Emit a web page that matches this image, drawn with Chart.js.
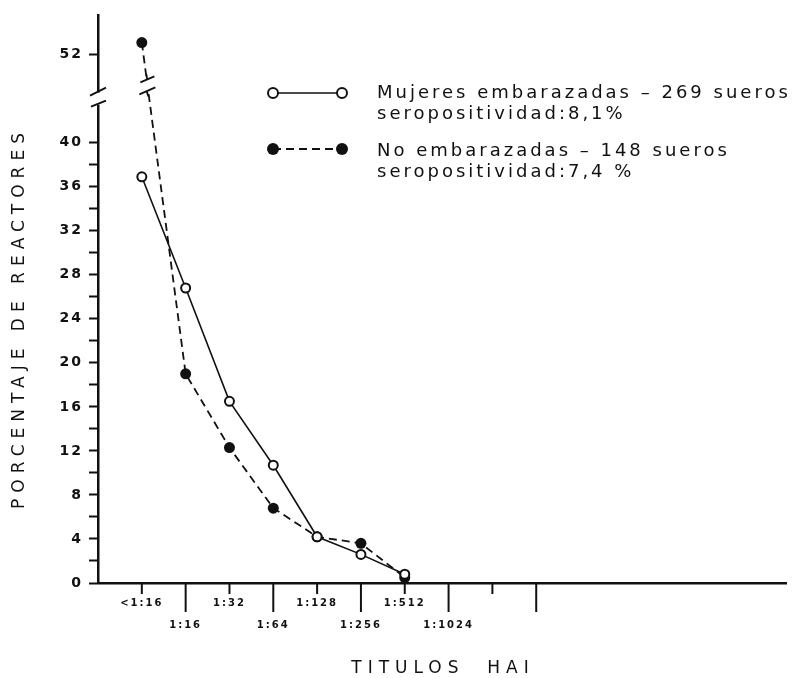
<!DOCTYPE html>
<html>
<head>
<meta charset="utf-8">
<script src="https://cdn.jsdelivr.net/npm/chart.js@4.4.1/dist/chart.umd.min.js"></script>
<style>
  body { margin: 0; background: #fff; }
  #wrap { width: 795px; height: 678px; }
</style>
</head>
<body>
<div id="wrap"><canvas id="grafico"></canvas></div>
<script>
// categorias del eje X (titulos HAI); las dos ultimas marcas no llevan texto
const titulos = ['<1:16', '1:16', '1:32', '1:64', '1:128', '1:256', '1:512', '1:1024', '', ''];
// porcentaje de reactores
const embarazadas = [36.9, 26.8, 16.5, 10.7, 4.2, 2.6, 0.8];
const noEmbarazadas = [53.1, 19.0, 12.3, 6.8, 4.2, 3.6, 0.5];
// etiquetas del eje Y (el 52 va despues del corte)
const yEtiquetas = [0, 4, 8, 12, 16, 20, 24, 28, 32, 36, 40, 52];

const leyenda1 = ['Mujeres embarazadas \u2013 269 sueros', 'seropositividad:8,1%'];
const leyenda2 = ['No embarazadas \u2013 148 sueros', 'seropositividad:7,4 %'];

// eje cortado: por encima de 44 se quitan 4 unidades
const CORTE = 44, SALTO = 4;
function aEje(v) { return v > CORTE ? v - SALTO : v; }
function deEje(v) { return v > CORTE ? v + SALTO : v; }

const FUENTE = '"DejaVu Sans", sans-serif';

function puntos(arr) {
    return arr.map((v, i) => ({ x: i + 1, y: aEje(v) }));
}

const extras = {
    id: 'extras',
    beforeDraw(chart) {
        chart.ctx.letterSpacing = '2px';
    },
    afterDraw(chart) {
        const ctx = chart.ctx;
        const xs = chart.scales.x, ys = chart.scales.y;
        const area = chart.chartArea;
        ctx.save();
        ctx.letterSpacing = '0px';
        ctx.strokeStyle = '#111';
        ctx.lineCap = 'butt';

        // marcas del eje X, alternando cortas y largas
        ctx.lineWidth = 2;
        titulos.forEach((t, i) => {
            const x = xs.getPixelForValue(i + 1);
            ctx.beginPath();
            ctx.moveTo(x, area.bottom);
            ctx.lineTo(x, area.bottom + (i % 2 ? 29 : 11));
            ctx.stroke();
        });

        // corte del eje Y
        const ax = area.left;
        const yc = ys.getPixelForValue(CORTE);
        ctx.fillStyle = '#fff';
        ctx.fillRect(ax - 3, yc - 6, 6, 12);
        ctx.lineWidth = 2;
        ctx.beginPath();
        ctx.moveTo(ax - 8, yc - 3); ctx.lineTo(ax + 8, yc - 11);
        ctx.moveTo(ax - 7, yc + 8); ctx.lineTo(ax + 8, yc + 2);
        ctx.stroke();

        // corte de la linea discontinua
        const meta = chart.getDatasetMeta(1).data;
        const p0 = meta[0], p1 = meta[1];
        const yb = ys.getPixelForValue(CORTE + 1.3);
        const t = (yb - p0.y) / (p1.y - p0.y);
        const xb = p0.x + t * (p1.x - p0.x);
        ctx.fillRect(xb - 5, yb - 6, 10, 12);
        ctx.lineWidth = 1.8;
        ctx.beginPath();
        ctx.moveTo(xb - 7, yb - 2); ctx.lineTo(xb + 7, yb - 8);
        ctx.moveTo(xb - 8, yb + 10); ctx.lineTo(xb + 8, yb + 3);
        ctx.moveTo(xb - 1, yb - 10); ctx.lineTo(xb, yb - 4);
        ctx.moveTo(xb - 1, yb + 6); ctx.lineTo(xb + 1, yb + 12);
        ctx.stroke();

        // leyenda
        const lx0 = 273, lx1 = 342;
        ctx.lineWidth = 1.6;
        ctx.beginPath();
        ctx.moveTo(lx0, 93); ctx.lineTo(lx1, 93);
        ctx.stroke();
        [lx0, lx1].forEach(x => {
            ctx.beginPath();
            ctx.arc(x, 93, 5, 0, Math.PI * 2);
            ctx.fillStyle = '#fff';
            ctx.fill();
            ctx.lineWidth = 2;
            ctx.stroke();
        });
        ctx.setLineDash([8, 5]);
        ctx.lineWidth = 1.8;
        ctx.beginPath();
        ctx.moveTo(lx0, 149); ctx.lineTo(lx1, 149);
        ctx.stroke();
        ctx.setLineDash([]);
        ctx.fillStyle = '#111';
        [lx0, lx1].forEach(x => {
            ctx.beginPath();
            ctx.arc(x, 149, 6, 0, Math.PI * 2);
            ctx.fill();
        });

        ctx.font = '18px ' + FUENTE;
        ctx.textBaseline = 'middle';
        ctx.textAlign = 'left';
        ctx.letterSpacing = '3px';
        ctx.fillText(leyenda1[0], 377, 93);
        ctx.fillText(leyenda1[1], 377, 114);
        ctx.fillText(leyenda2[0], 377, 151);
        ctx.fillText(leyenda2[1], 377, 172);

        // titulos de los ejes
        ctx.font = '17px ' + FUENTE;
        ctx.letterSpacing = '6px';
        ctx.textAlign = 'center';
        ctx.fillText('TITULOS  HAI', 443, 669);
        ctx.save();
        ctx.translate(20, 318);
        ctx.rotate(-Math.PI / 2);
        ctx.fillText('PORCENTAJE DE REACTORES', 0, 0);
        ctx.restore();

        ctx.restore();
    }
};

new Chart(document.getElementById('grafico'), {
    type: 'line',
    data: {
        datasets: [
            {
                label: leyenda1[0],
                data: puntos(embarazadas),
                borderColor: '#111',
                borderWidth: 1.6,
                pointRadius: 4.5,
                pointBorderWidth: 2,
                pointBackgroundColor: '#fff',
                pointBorderColor: '#111',
                tension: 0
            },
            {
                label: leyenda2[0],
                data: puntos(noEmbarazadas),
                borderColor: '#111',
                borderWidth: 1.8,
                borderDash: [8, 5],
                pointRadius: 5.5,
                pointBorderWidth: 0,
                pointBackgroundColor: '#111',
                tension: 0
            }
        ]
    },
    options: {
        responsive: true,
        maintainAspectRatio: false,
        animation: false,
        events: [],
        layout: { padding: { top: 15, right: 5, left: 0, bottom: 0 } },
        plugins: {
            legend: { display: false },
            tooltip: { enabled: false }
        },
        scales: {
            x: {
                type: 'linear',
                min: 0,
                max: 15.7,
                afterFit: s => { s.height = 95; },
                grid: { display: false, drawTicks: false },
                border: { display: true, color: '#111', width: 2.5 },
                ticks: {
                    stepSize: 1,
                    autoSkip: false,
                    maxRotation: 0,
                    padding: 9,
                    color: '#111',
                    font: { family: FUENTE, size: 10, weight: 'bold', lineHeight: 2.2 },
                    callback: v => {
                        const t = titulos[v - 1];
                        if (!Number.isInteger(v) || !t) return '';
                        return (v - 1) % 2 ? ['', t] : [t, ''];
                    }
                }
            },
            y: {
                min: 0,
                max: 51.6,
                afterFit: s => { s.width = 98; },
                afterBuildTicks: s => {
                    s.ticks = s.ticks.filter(t => t.value <= 40 || yEtiquetas.includes(deEje(t.value)));
                },
                grid: {
                    drawOnChartArea: false,
                    tickLength: 9,
                    tickWidth: 2,
                    color: '#111'
                },
                border: { display: true, color: '#111', width: 2.5 },
                ticks: {
                    stepSize: 2,
                    padding: 6,
                    color: '#111',
                    font: { family: FUENTE, size: 14, weight: 'bold' },
                    callback: v => yEtiquetas.includes(deEje(v)) ? String(deEje(v)) : ''
                }
            }
        }
    },
    plugins: [extras]
});
</script>
</body>
</html>
